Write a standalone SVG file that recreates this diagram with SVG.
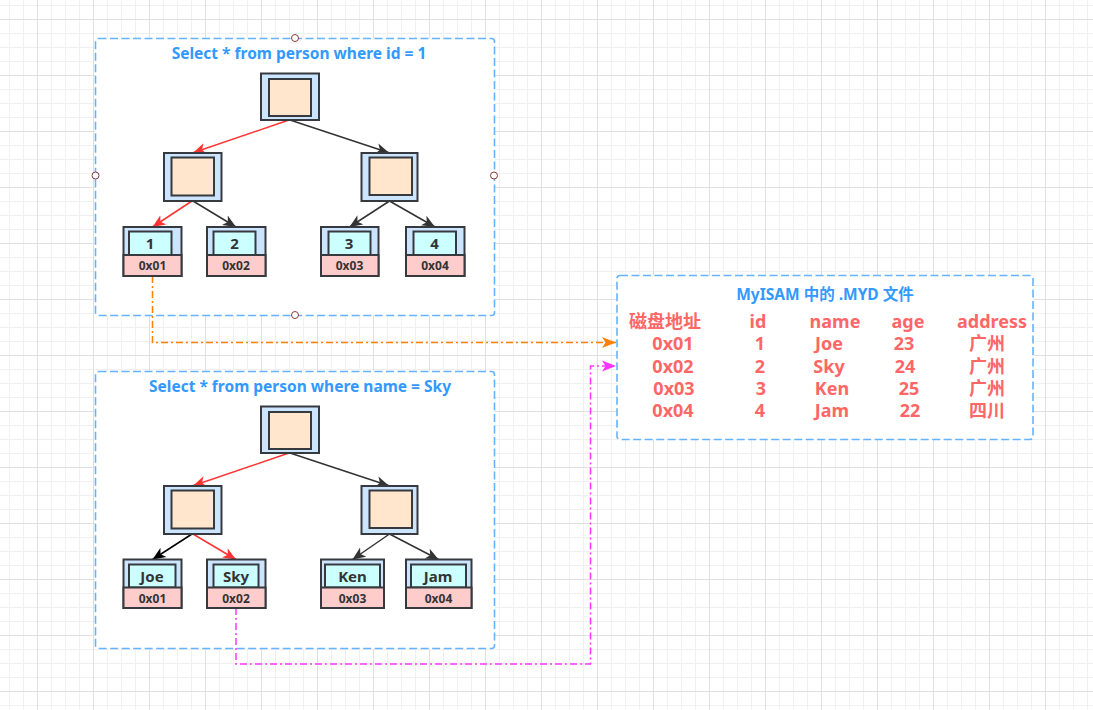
<svg xmlns="http://www.w3.org/2000/svg" width="1093" height="710" viewBox="0 0 1093 710">
<defs>
<pattern id="grid" patternUnits="userSpaceOnUse" x="37" y="19" width="56" height="56">
<path d="M14.5 0V56M28.5 0V56M42.5 0V56M0 14.5H56M0 28.5H56M0 42.5H56" stroke="#f0f0f0" stroke-width="1" fill="none"/>
<path d="M0.5 0V56M0 0.5H56" stroke="#e0e0e0" stroke-width="1" fill="none"/>
</pattern>
<marker id="aRed" markerUnits="userSpaceOnUse" markerWidth="14" markerHeight="12" refX="13" refY="6" orient="auto"><path d="M0 0.5L13 6L0 11.5L3.5 6Z" fill="#FF3333"/></marker>
<marker id="aDark" markerUnits="userSpaceOnUse" markerWidth="14" markerHeight="12" refX="13" refY="6" orient="auto"><path d="M0 0.5L13 6L0 11.5L3.5 6Z" fill="#333333"/></marker>
<marker id="aBlack" markerUnits="userSpaceOnUse" markerWidth="14" markerHeight="12" refX="13" refY="6" orient="auto"><path d="M0 0.5L13 6L0 11.5L3.5 6Z" fill="#000000"/></marker>
<marker id="aOrange" markerUnits="userSpaceOnUse" markerWidth="15" markerHeight="12" refX="14" refY="6" orient="auto"><path d="M0 0.5L14 6L0 11.5L3.5 6Z" fill="#FF8000"/></marker>
<marker id="aMag" markerUnits="userSpaceOnUse" markerWidth="15" markerHeight="12" refX="14" refY="6" orient="auto"><path d="M0 0.5L14 6L0 11.5L3.5 6Z" fill="#FF33FF"/></marker>
<style>
.box{fill:#ffffff;stroke:#66B2FF;stroke-width:1.6;stroke-dasharray:8 3.5}
.title{font-family:"Noto Sans","Noto Sans CJK SC",sans-serif;font-weight:bold;font-size:15.5px;fill:#3399FF;text-anchor:middle}
.outer{fill:#CCE5FF;stroke:#36393D;stroke-width:2}
.peach{fill:#FFE6CC;stroke:#36393D;stroke-width:2}
.cyan{fill:#CCFFFF;stroke:#36393D;stroke-width:2}
.pink{fill:#FFCCCC;stroke:#36393D;stroke-width:2}
.lbl{font-family:"Noto Sans",sans-serif;font-weight:bold;font-size:15px;fill:#333333;text-anchor:middle}
.addr{font-family:"Noto Sans",sans-serif;font-weight:bold;font-size:12px;fill:#333333;text-anchor:middle}
.tb{font-family:"Noto Sans","Noto Sans CJK SC",sans-serif;font-weight:bold;font-size:18px;fill:#FF6666;text-anchor:middle}
.e{fill:none;stroke-width:1.5}
.handle{fill:#ffffff;stroke:#8B3A3A;stroke-width:1}
</style>
</defs>
<rect width="1093" height="710" fill="#ffffff"/>
<rect width="1093" height="710" fill="url(#grid)"/>

<g id="box1">
<rect class="box" x="95.5" y="38.5" width="399" height="277" rx="3"/>
<text class="title" x="299" y="58.5">Select * from person where id = 1</text>
</g>
<g id="box2">
<rect class="box" x="95.5" y="371.5" width="399" height="277" rx="3"/>
<text class="title" x="300" y="391.5">Select * from person where name = Sky</text>
</g>
<g id="box3">
<rect class="box" x="617" y="275.5" width="416" height="164" rx="3"/>
<text class="title" x="825" y="299.5">MyISAM 中的 .MYD 文件</text>
</g>

<g id="handles">
<circle class="handle" cx="295" cy="38" r="3.5"/>
<circle class="handle" cx="95.5" cy="175.5" r="3.5"/>
<circle class="handle" cx="494" cy="175.5" r="3.5"/>
<circle class="handle" cx="295" cy="315" r="3.5"/>
</g>

<g id="connectors">
<path class="e" d="M289 120L193 152.7" stroke="#FF3333" marker-end="url(#aRed)"/>
<path class="e" d="M290 120L389 152.7" stroke="#333333" marker-end="url(#aDark)"/>
<path class="e" d="M192 201L152.5 227" stroke="#FF3333" marker-end="url(#aRed)"/>
<path class="e" d="M193 201L236 227" stroke="#333333" marker-end="url(#aDark)"/>
<path class="e" d="M389.5 201L349.5 227" stroke="#333333" marker-end="url(#aDark)"/>
<path class="e" d="M389.5 201L435 227" stroke="#333333" marker-end="url(#aDark)"/>

<path class="e" d="M289 453L193 485.7" stroke="#FF3333" marker-end="url(#aRed)"/>
<path class="e" d="M290 453L389 485.7" stroke="#333333" marker-end="url(#aDark)"/>
<path class="e" d="M192 534L152.5 559.5" stroke="#000000" marker-end="url(#aBlack)"/>
<path class="e" d="M193 534L236 559.5" stroke="#FF3333" marker-end="url(#aRed)"/>
<path class="e" d="M389.5 534L352.5 559.5" stroke="#333333" marker-end="url(#aDark)"/>
<path class="e" d="M389.5 534L438.7 559.5" stroke="#333333" marker-end="url(#aDark)"/>

<path class="e" d="M152.5 276V342.5H616" stroke="#FF8000" stroke-dasharray="7 3 2 3" marker-end="url(#aOrange)"/>
<path class="e" d="M236 608V664H590.5V366H616" stroke="#FF33FF" stroke-dasharray="7 3 2 3" marker-end="url(#aMag)"/>
</g>

<g id="t1-root"><rect class="outer" x="261" y="73.5" width="58" height="46.5"/><rect class="peach" x="269" y="79" width="42" height="37"/></g>
<g id="t1-left"><rect class="outer" x="164" y="153" width="57.5" height="48"/><rect class="peach" x="171.5" y="157.5" width="42.5" height="38"/></g>
<g id="t1-right"><rect class="outer" x="361.5" y="153" width="56" height="48"/><rect class="peach" x="369.5" y="157.5" width="42.5" height="37.5"/></g>

<g id="t1-leaf1"><rect class="outer" x="123.5" y="227" width="58" height="49"/><rect class="cyan" x="129" y="231.5" width="42.5" height="23.5"/><rect class="pink" x="123.5" y="255" width="58" height="21"/><text class="lbl" x="150" y="249">1</text><text class="addr" x="152.5" y="270">0x01</text></g>
<g id="t1-leaf2"><rect class="outer" x="207" y="227" width="58.5" height="49"/><rect class="cyan" x="213.5" y="231.5" width="42" height="23.5"/><rect class="pink" x="207" y="255" width="58.5" height="21"/><text class="lbl" x="234.5" y="249">2</text><text class="addr" x="236" y="270">0x02</text></g>
<g id="t1-leaf3"><rect class="outer" x="321" y="227" width="57.5" height="49"/><rect class="cyan" x="328.5" y="231.5" width="42" height="23.5"/><rect class="pink" x="321" y="255" width="57.5" height="21"/><text class="lbl" x="349" y="249">3</text><text class="addr" x="349.5" y="270">0x03</text></g>
<g id="t1-leaf4"><rect class="outer" x="406" y="227" width="58.5" height="49"/><rect class="cyan" x="413.5" y="231.5" width="42.5" height="23.5"/><rect class="pink" x="406" y="255" width="58.5" height="21"/><text class="lbl" x="434.5" y="249">4</text><text class="addr" x="435" y="270">0x04</text></g>

<g id="t2-root"><rect class="outer" x="261" y="406.5" width="58" height="46.5"/><rect class="peach" x="269" y="412" width="42" height="37"/></g>
<g id="t2-left"><rect class="outer" x="164" y="486" width="57.5" height="48"/><rect class="peach" x="171.5" y="490.5" width="42.5" height="38"/></g>
<g id="t2-right"><rect class="outer" x="361.5" y="486" width="56" height="48"/><rect class="peach" x="369.5" y="490.5" width="42.5" height="37.5"/></g>

<g id="t2-joe"><rect class="outer" x="123.5" y="559.5" width="58" height="48.5"/><rect class="cyan" x="129" y="564.5" width="46.5" height="23"/><rect class="pink" x="123.5" y="587.5" width="58" height="20.5"/><text class="lbl" x="152" y="582">Joe</text><text class="addr" x="152.5" y="602.5">0x01</text></g>
<g id="t2-sky"><rect class="outer" x="207" y="559.5" width="58.5" height="48.5"/><rect class="cyan" x="213.5" y="564.5" width="45" height="23"/><rect class="pink" x="207" y="587.5" width="58.5" height="20.5"/><text class="lbl" x="236" y="582">Sky</text><text class="addr" x="236" y="602.5">0x02</text></g>
<g id="t2-ken"><rect class="outer" x="321" y="559.5" width="63" height="48.5"/><rect class="cyan" x="325" y="564.5" width="55" height="23"/><rect class="pink" x="321" y="587.5" width="63" height="20.5"/><text class="lbl" x="352.5" y="582">Ken</text><text class="addr" x="352.5" y="602.5">0x03</text></g>
<g id="t2-jam"><rect class="outer" x="406" y="559.5" width="65.5" height="48.5"/><rect class="cyan" x="411" y="564.5" width="55" height="23"/><rect class="pink" x="406" y="587.5" width="65.5" height="20.5"/><text class="lbl" x="438" y="582">Jam</text><text class="addr" x="438.5" y="602.5">0x04</text></g>

<g id="table">
<text class="tb" x="665" y="328">磁盘地址</text><text class="tb" x="758" y="328">id</text><text class="tb" x="835" y="328">name</text><text class="tb" x="908" y="328">age</text><text class="tb" x="992" y="328">address</text>
<text class="tb" x="673" y="350">0x01</text><text class="tb" x="760" y="350">1</text><text class="tb" x="829" y="350">Joe</text><text class="tb" x="904" y="350">23</text><text class="tb" x="987" y="350">广州</text>
<text class="tb" x="673" y="372.5">0x02</text><text class="tb" x="760" y="372.5">2</text><text class="tb" x="829" y="372.5">Sky</text><text class="tb" x="905" y="372.5">24</text><text class="tb" x="987" y="372.5">广州</text>
<text class="tb" x="674" y="394.5">0x03</text><text class="tb" x="761" y="394.5">3</text><text class="tb" x="832" y="394.5">Ken</text><text class="tb" x="909" y="394.5">25</text><text class="tb" x="987" y="394.5">广州</text>
<text class="tb" x="673" y="417">0x04</text><text class="tb" x="760" y="417">4</text><text class="tb" x="832" y="417">Jam</text><text class="tb" x="910" y="417">22</text><text class="tb" x="987" y="417">四川</text>
</g>
</svg>
